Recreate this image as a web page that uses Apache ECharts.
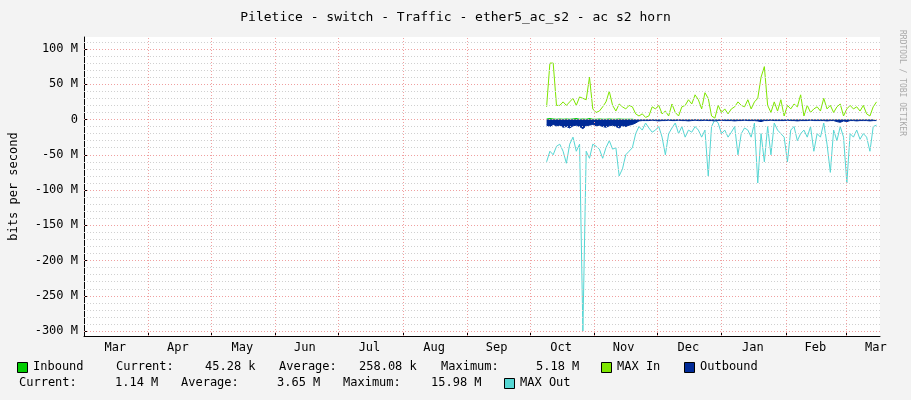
<!DOCTYPE html>
<html>
<head>
<meta charset="utf-8">
<title>Piletice traffic</title>
<script src="https://cdn.jsdelivr.net/npm/echarts@6/dist/echarts.min.js"></script>
</head>
<body style="margin:0;background:#f3f3f3">
<div id="main" style="width:911px;height:400px;"></div>
<script type="text/javascript">
// samples start ~9 Oct 2023, one every ~38 h (values in Mbit/s)
var sampleStart = '2023-10-09';
var sampleStepHours = 38;
var maxIn = [18,80,80,20,20,25,20,25,30,20,
  32,30,28,60,15,10,12,18,25,40,
  20,12,22,18,15,20,18,8,5,8,
  3,5,18,15,20,8,12,5,22,10,
  5,18,20,28,22,35,28,15,38,30,
  5,2,20,10,15,8,15,18,25,20,
  18,28,15,25,30,60,75,20,10,25,
  12,28,5,20,15,22,18,35,5,20,
  10,15,18,12,30,15,20,10,18,22,
  5,15,20,15,18,12,20,8,5,18,
  25];
var maxOut = [-60,-45,-50,-38,-35,-45,-62,-35,-25,-45,
  -35,-300,-45,-55,-35,-38,-42,-55,-40,-30,
  -42,-40,-80,-70,-50,-45,-40,-20,-10,-15,
  -5,-12,-18,-15,-10,-25,-50,-20,-12,-5,
  -20,-10,-25,-15,-18,-10,-15,-25,-15,-80,
  -10,0,-5,-20,-15,-25,-18,-10,-50,-20,
  -12,-15,-25,-5,-90,-20,-60,-10,-50,-5,
  -15,-20,-25,-60,-15,-10,-30,-20,-15,-25,
  -10,-45,-20,-25,-5,-35,-75,-15,-30,-10,
  -25,-90,-20,-25,-15,-28,-20,-25,-45,-10,
  -8];
var outbound = [-8,-10,-7,-9,-8,-11,-10,-12,-9,-8,
  -10,-13,-9,-8,-7,-9,-8,-10,-11,-9,
  -8,-10,-12,-9,-10,-8,-7,-5,-2,-1.5,
  -1.5,-1.5,-1,-1.5,-2,-1.5,-1.5,-1,-1.5,-1.5,
  -1,-1.5,-1.5,-2,-1.5,-1,-1.5,-1.5,-1,-1.5,
  -1.5,-2,-1.5,-1,-1.5,-1.5,-1.5,-2,-1.5,-1.5,
  -1,-1.5,-1.5,-1.5,-2,-3,-1.5,-1.5,-1,-1.5,
  -1.5,-1.5,-1.5,-1,-1.5,-1.5,-2,-1.5,-1.5,-1.5,
  -1,-1.5,-1.5,-1.5,-1.5,-2,-1.5,-1.5,-3,-4,
  -2,-3,-1.5,-1.5,-2,-1.5,-1.5,-1.5,-2,-1.5,
  -1.5];
var inbound = [1.5,2,1.5,1,1.5,1,1.5,1,1.5,2,
  1,1.5,1,2,1,1,1.5,1,1,1.5,
  1,1,1.5,1,1,1,1,0.5,0.3,0.3,
  0.3,0.3,0.3,0.3,0.3,0.3,0.3,0.3,0.3,0.3,
  0.3,0.3,0.3,0.3,0.3,0.3,0.3,0.3,0.3,0.3,
  0.3,0.3,0.3,0.3,0.3,0.3,0.3,0.3,0.3,0.3,
  0.3,0.3,0.3,0.3,0.3,0.3,0.3,0.3,0.3,0.3,
  0.3,0.3,0.3,0.3,0.3,0.3,0.3,0.3,0.3,0.3,
  0.3,0.3,0.3,0.3,0.3,0.3,0.3,0.3,0.3,0.3,
  0.3,0.3,0.3,0.3,0.3,0.3,0.3,0.3,0.3,0.3,
  0.05];
var monthStarts = ['2023-04-01','2023-05-01','2023-06-01','2023-07-01','2023-08-01','2023-09-01',
  '2023-10-01','2023-11-01','2023-12-01','2024-01-01','2024-02-01','2024-03-01'];
var monthLabelDays = ['2023-03-16','2023-04-15','2023-05-16','2023-06-15','2023-07-16','2023-08-16',
  '2023-09-15','2023-10-16','2023-11-15','2023-12-16','2024-01-16','2024-02-15','2024-03-15'];
var monthNames = ['Mar','Apr','May','Jun','Jul','Aug','Sep','Oct','Nov','Dec','Jan','Feb','Mar'];
var yTicks = [-300,-250,-200,-150,-100,-50,0,50,100];

var t0 = new Date(sampleStart).getTime();
function pts(arr) {
  return arr.map(function (v, i) { return [t0 + i * sampleStepHours * 3600000, v]; });
}
var labelTimes = monthLabelDays.map(function (d) { return new Date(d).getTime(); });
var tickTimes = monthStarts.map(function (d) { return new Date(d).getTime(); });

var gridLines = [];
for (var m = -300; m <= 110; m += 10) {
  var major = m % 50 === 0;
  gridLines.push({ yAxis: m, lineStyle: major ? { color: '#f0a0a0', type: [1, 2], width: 1 } : { color: '#d0d0d0', type: [1, 2], width: 1 } });
}
tickTimes.forEach(function (t) {
  gridLines.push({ xAxis: t, lineStyle: { color: '#f0a0a0', type: [1, 2], width: 1 } });
});

var mono = 'DejaVu Sans Mono';
var myChart = echarts.init(document.getElementById('main'));
var legendY1 = 368, legendY2 = 384;
function box(x, y, c) {
  return { type: 'rect', left: x, top: y - 6, shape: { width: 10, height: 10 }, style: { fill: c, stroke: '#000', lineWidth: 1 } };
}
function txt(x, y, s) {
  return { type: 'text', left: x, top: y - 7, style: { text: s, font: '12px ' + mono, fill: '#000' } };
}
var option = {
  backgroundColor: '#f3f3f3',
  animation: false,
  title: {
    text: 'Piletice - switch - Traffic - ether5_ac_s2 - ac s2 horn',
    left: 'center', top: 6,
    textStyle: { fontFamily: mono, fontSize: 13, fontWeight: 'normal', color: '#000' }
  },
  grid: { left: 80, right: 31, top: 37, bottom: 64, show: true, backgroundColor: '#fff', borderWidth: 0 },
  xAxis: {
    type: 'value',
    min: new Date('2023-03-01').getTime(),
    max: new Date('2024-03-17').getTime(),
    axisLine: { onZero: false, lineStyle: { color: '#000' } },
    axisTick: { show: true, customValues: tickTimes, inside: true, length: 3 },
    splitLine: { show: false },
    axisLabel: {
      customValues: labelTimes,
      fontFamily: mono, fontSize: 12, color: '#000', margin: 6,
      formatter: function (v) { return monthNames[labelTimes.indexOf(v)] || ''; }
    }
  },
  yAxis: {
    type: 'value', min: -307, max: 117,
    name: 'bits per second', nameLocation: 'middle', nameGap: 64, nameRotate: 90,
    nameTextStyle: { fontFamily: mono, fontSize: 12, color: '#000' },
    axisLine: { show: true, lineStyle: { color: '#000' } },
    axisTick: { show: true, customValues: yTicks, length: 3, inside: true },
    splitLine: { show: false },
    axisLabel: {
      customValues: yTicks, fontFamily: mono, fontSize: 12, color: '#000', margin: 6,
      formatter: function (v) { return v === 0 ? '0' : v + ' M'; }
    }
  },
  graphic: [
    { type: 'text', left: 898, top: 30, rotation: -Math.PI / 2,
      style: { text: 'RRDTOOL / TOBI OETIKER', font: '8px ' + mono, fill: '#aaa' } },
    box(17, legendY1, '#00cc00'), txt(33, legendY1, 'Inbound'),
    txt(116, legendY1, 'Current:'), txt(205, legendY1, '45.28 k'),
    txt(279, legendY1, 'Average:'), txt(359, legendY1, '258.08 k'),
    txt(441, legendY1, 'Maximum:'), txt(536, legendY1, '5.18 M'),
    box(601, legendY1, '#7ee600'), txt(617, legendY1, 'MAX In'),
    box(684, legendY1, '#002a97'), txt(700, legendY1, 'Outbound'),
    txt(19, legendY2, 'Current:'), txt(115, legendY2, '1.14 M'),
    txt(181, legendY2, 'Average:'), txt(277, legendY2, '3.65 M'),
    txt(343, legendY2, 'Maximum:'), txt(431, legendY2, '15.98 M'),
    box(504, legendY2, '#55d6d3'), txt(520, legendY2, 'MAX Out')
  ],
  series: [
    { name: 'grid', type: 'line', data: [], silent: true,
      markLine: { silent: true, symbol: 'none', label: { show: false }, animation: false, data: gridLines } },
    { name: 'MAX Out', type: 'line', data: pts(maxOut), showSymbol: false,
      lineStyle: { color: '#55d6d3', width: 1 }, itemStyle: { color: '#55d6d3' } },
    { name: 'MAX In', type: 'line', data: pts(maxIn), showSymbol: false,
      lineStyle: { color: '#7ee600', width: 1 }, itemStyle: { color: '#7ee600' } },
    { name: 'Inbound', type: 'line', data: pts(inbound), showSymbol: false,
      lineStyle: { width: 0 }, areaStyle: { color: '#00cc00', opacity: 1 }, itemStyle: { color: '#00cc00' } },
    { name: 'Outbound', type: 'line', data: pts(outbound), showSymbol: false,
      lineStyle: { color: '#002a97', width: 1 }, areaStyle: { color: '#002a97', opacity: 1 }, itemStyle: { color: '#002a97' } }
  ]
};
myChart.setOption(option);
</script>
</body>
</html>
